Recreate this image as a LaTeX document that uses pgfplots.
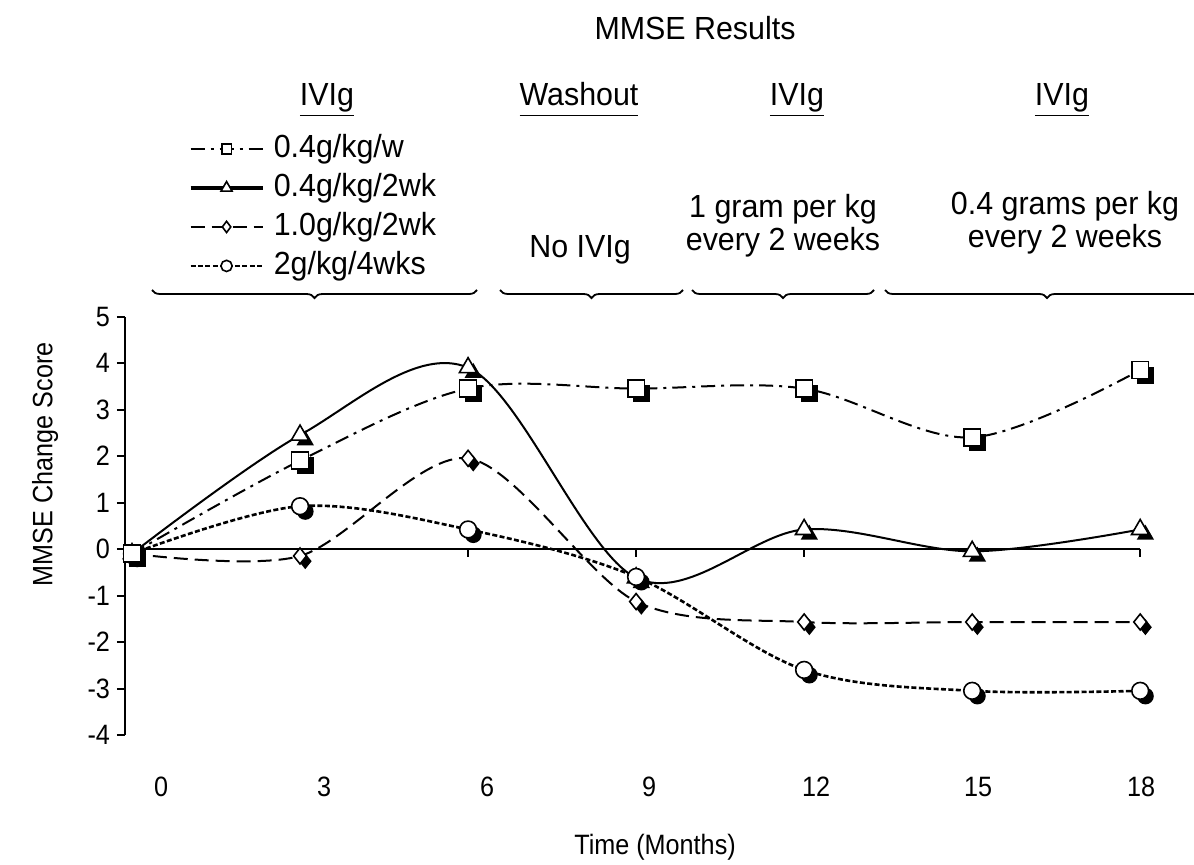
\documentclass[border=0pt]{standalone}
\usepackage{fontspec}
\setmainfont{Liberation Sans}[FakeStretch=0.9]
\newfontfamily\hfont{Liberation Sans}[FakeStretch=0.95]
\usepackage{pgfplots}
\pgfplotsset{compat=1.18}
\usetikzlibrary{decorations.pathreplacing}

\newcommand\F{\fontsize{14pt}{17pt}\selectfont}
\newcommand\HF{\hfont\fontsize{16pt}{16.5pt}\selectfont}

\newcommand\shmark[1]{%
 \begin{pgfscope}\pgftransformshift{\pgfqpoint{2.6pt}{-2.6pt}}#1\pgfsetfillcolor{black}\pgfusepath{fill}\end{pgfscope}%
 \begin{pgfscope}#1\pgfsetfillcolor{white}\pgfusepath{fill,stroke}\end{pgfscope}}
\pgfdeclareplotmark{shsq}{\shmark{\pgfpathrectangle{\pgfqpoint{-\pgfplotmarksize}{-\pgfplotmarksize}}{\pgfqpoint{2\pgfplotmarksize}{2\pgfplotmarksize}}}}
\pgfdeclareplotmark{shtri}{\shmark{\pgfpathmoveto{\pgfqpoint{0pt}{\pgfplotmarksize}}\pgfpathlineto{\pgfqpoint{-.866\pgfplotmarksize}{-.5\pgfplotmarksize}}\pgfpathlineto{\pgfqpoint{.866\pgfplotmarksize}{-.5\pgfplotmarksize}}\pgfpathclose}}
\pgfdeclareplotmark{shdia}{\shmark{\pgfpathmoveto{\pgfqpoint{0pt}{\pgfplotmarksize}}\pgfpathlineto{\pgfqpoint{-.8\pgfplotmarksize}{0pt}}\pgfpathlineto{\pgfqpoint{0pt}{-\pgfplotmarksize}}\pgfpathlineto{\pgfqpoint{.8\pgfplotmarksize}{0pt}}\pgfpathclose}}
\pgfdeclareplotmark{shcirc}{\shmark{\pgfpathcircle{\pgfpointorigin}{\pgfplotmarksize}}}

\pgfplotsset{
 sS/.style={black, line width=1pt, dash pattern=on 7pt off 3pt on 1.5pt off 3pt},
 sT/.style={black, line width=1pt},
 sD/.style={black, line width=1pt, dash pattern=on 7pt off 3.5pt},
 sC/.style={black, line width=1.3pt, dash pattern=on 2.5pt off 1.2pt},
}

\begin{document}
\begin{tikzpicture}
\path[use as bounding box] (0,0) rectangle (597pt,432pt);
\begin{axis}[
  at={(62.5pt,64.5pt)}, anchor=south west,
  scale only axis, width=516pt, height=209.25pt,
  xmin=-0.125, xmax=18.3, ymin=-4, ymax=5,
  axis y line*=left, axis x line*=bottom,
  x axis line style={draw=none},
  y axis line style={line width=1pt},
  ytick={-4,-3,-2,-1,0,1,2,3,4,5},
  tick align=outside, major tick length=4pt,
  ytick style={line width=1pt, black},
  xtick={0.518,3.429,6.339,9.232,12.214,15.107,18.018},
  xticklabels={0,3,6,9,12,15,18},
  xtick style={draw=none},
  xticklabel style={anchor=center, yshift=-22pt},
  ticklabel style={font=\F},
  /pgf/number format/assume math mode=true,
  xlabel={Time (Months)}, ylabel={MMSE Change Score},
  label style={font=\F},
  xlabel style={at={(axis description cs:0.5136,-0.268)}, anchor=center},
  ylabel style={at={(axis description cs:-0.0775,0.647)}, anchor=center},
  clip=false,
  legend style={at={(0.061,1.4456)}, anchor=north west, draw=none, fill=none,
    inner sep=0pt, row sep=1pt, font=\HF,
    nodes={inner sep=1.5pt, text height=12pt, text depth=3.5pt},
    /tikz/every odd column/.append style={column sep=3pt}},
  legend cell align=left,
  legend image code/.code={\draw[mark repeat=2,mark phase=2,#1] plot coordinates {(0pt,0pt)(18pt,0pt)(36pt,0pt)};},
]
\addlegendimage{sS, mark=square*, mark size=2.4pt, mark options={solid, fill=white, line width=0.8pt}}
\addlegendentry{0.4g/kg/w}
\addlegendimage{sT, line width=2.2pt, mark=triangle*, mark size=3.2pt, mark options={solid, fill=white, line width=0.8pt}}
\addlegendentry{0.4g/kg/2wk}
\addlegendimage{sD, mark=diamond*, mark size=2.8pt, mark options={solid, fill=white, line width=0.8pt}}
\addlegendentry{1.0g/kg/2wk}
\addlegendimage{sC, mark=*, mark size=2.8pt, mark options={solid, fill=white, line width=0.8pt}}
\addlegendentry{2g/kg/4wks}

\draw[black, line width=1pt] (axis cs:-0.125,0) -- (axis cs:18,0);
\draw[black, line width=0.8pt] (axis cs:3,0) -- ++(0pt,-4pt);
\draw[black, line width=0.8pt] (axis cs:6,0) -- ++(0pt,-4pt);
\draw[black, line width=0.8pt] (axis cs:9,0) -- ++(0pt,-4pt);
\draw[black, line width=0.8pt] (axis cs:12,0) -- ++(0pt,-4pt);
\draw[black, line width=0.8pt] (axis cs:15,0) -- ++(0pt,-4pt);
\draw[black, line width=0.8pt] (axis cs:18,0) -- ++(0pt,-4pt);

\addplot[sT, smooth, tension=0.55, mark=shtri, mark size=5pt, mark options={solid, line width=0.8pt}, forget plot]
 coordinates {(0,-0.1)(3,2.45)(6,3.9)(9,-0.62)(12,0.42)(15,-0.05)(18,0.42)};
\addplot[sD, smooth, tension=0.5, mark=shdia, mark size=4pt, mark options={solid, line width=0.8pt}, forget plot]
 coordinates {(0,-0.1)(3,-0.15)(6,1.95)(9,-1.13)(12,-1.57)(15,-1.57)(18,-1.57)};
\addplot[sC, smooth, tension=0.55, mark=shcirc, mark size=4.2pt, mark options={solid, line width=0.8pt}, forget plot]
 coordinates {(0,-0.1)(3,0.92)(6,0.42)(9,-0.6)(12,-2.6)(15,-3.05)(18,-3.05)};
\addplot[sS, smooth, tension=0.55, mark=shsq, mark size=4.2pt, mark options={solid, line width=0.8pt}, forget plot]
 coordinates {(0,-0.1)(3,1.9)(6,3.45)(9,3.45)(12,3.45)(15,2.4)(18,3.85)};
\end{axis}

\node[font=\HF] at (347.5pt,418pt) {MMSE Results};
\node[font=\HF, anchor=base] at (163.5pt,379pt) {\underline{IVIg}};
\node[font=\HF, anchor=base] at (289.5pt,379pt) {\underline{Washout\vphantom{g}}};
\node[font=\HF, anchor=base] at (398.5pt,379pt) {\underline{IVIg}};
\node[font=\HF, anchor=base] at (531pt,379pt) {\underline{IVIg}};
\node[font=\HF] at (290pt,307pt) {No IVIg};
\node[font=\HF, align=center] at (391.5pt,319pt) {1 gram per kg\\every 2 weeks};
\node[font=\HF, align=center] at (532.5pt,320.75pt) {0.4 grams per kg\\every 2 weeks};
\draw[line width=0.9pt, decorate, decoration={brace, mirror, amplitude=4pt}] (76pt,287pt) -- (238.5pt,287pt);
\draw[line width=0.9pt, decorate, decoration={brace, mirror, amplitude=4pt}] (250pt,287pt) -- (341.5pt,287pt);
\draw[line width=0.9pt, decorate, decoration={brace, mirror, amplitude=4pt}] (346pt,287pt) -- (437pt,287pt);
\draw[line width=0.9pt, decorate, decoration={brace, mirror, amplitude=4pt}] (442.5pt,287pt) -- (604.5pt,287pt);
\end{tikzpicture}
\end{document}
